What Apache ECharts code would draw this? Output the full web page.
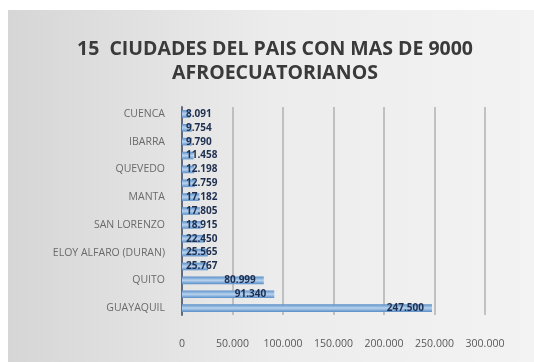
<!DOCTYPE html>
<html><head><meta charset="utf-8">
<script src="https://cdn.jsdelivr.net/npm/echarts@6/dist/echarts.min.js"></script>
<style>html,body{margin:0;padding:0;background:#fff}#c{width:534px;height:362px}</style>
</head><body><div id="c"></div>
<script>
// categories bottom -> top (Excel order)
const categories = ["GUAYAQUIL","ESMERALDAS","QUITO","QUININDE","ELOY ALFARO (DURAN)","SANTO DOMINGO","SAN LORENZO","MACHALA","MANTA","ELOY ALFARO","QUEVEDO","BABAHOYO","IBARRA","MUISNE","CUENCA"];
const values = [247500, 91340, 80999, 25767, 25565, 22450, 18915, 17805, 17182, 12759, 12198, 11458, 9790, 9754, 8091];
const xTicks = [0, 50000, 100000, 150000, 200000, 250000, 300000];
const titleText = "15  CIUDADES DEL PAIS CON MAS DE 9000\nAFROECUATORIANOS";

const fmt = v => String(v).replace(/\B(?=(\d{3})+(?!\d))/g, ".");
const chart = echarts.init(document.getElementById('c'), null, {renderer:'canvas'});
const barFill = new echarts.graphic.LinearGradient(0,0,0,1,[
  {offset:0,color:'#5a8fc8'},{offset:0.5,color:'#b9d3ef'},{offset:1,color:'#5a8fc8'}]);
const data = values.map(v => ({
  value: v,
  label: { position: v > 50000 ? 'insideRight' : 'insideLeft', distance: v > 50000 ? 8 : 4 }
}));
chart.setOption({
  animation:false,
  graphic:[{type:'rect', z:-10, shape:{x:8,y:10,width:526,height:352},
    style:{fill:new echarts.graphic.LinearGradient(0,0,1,0,[
      {offset:0,color:'#d6d6d6'},{offset:0.5,color:'#ececec'},{offset:1,color:'#f3f3f3'}])}}],
  title:{text:titleText, left:270, top:32, textAlign:'center',
    textStyle:{fontFamily:'Open Sans', fontWeight:'bold', fontSize:19.5, color:'#3a3a3a', lineHeight:24}},
  grid:{left:182, right:49, top:107, bottom:47},
  xAxis:{type:'value', min:xTicks[0], max:xTicks[xTicks.length-1], interval:50000,
    axisLine:{show:false}, axisTick:{show:false},
    axisLabel:{formatter:fmt, fontFamily:'Open Sans', fontSize:10.5, color:'#595959', margin:24},
    splitLine:{lineStyle:{color:'#b0b0b0', width:1.5}}},
  yAxis:{type:'category', data:categories,
    axisLine:{lineStyle:{color:'#5f6b7a', width:2}}, axisTick:{show:false},
    axisLabel:{interval:1, fontFamily:'Open Sans', fontSize:10.5, color:'#6a6a6a', margin:17}},
  series:[{type:'bar', data:data, barWidth:'55%', itemStyle:{color:barFill},
    label:{show:true, formatter:p=>fmt(p.value), fontFamily:'Open Sans', fontWeight:'bold', fontSize:10, color:'#1f2f4f'}}]
});
</script></body></html>
